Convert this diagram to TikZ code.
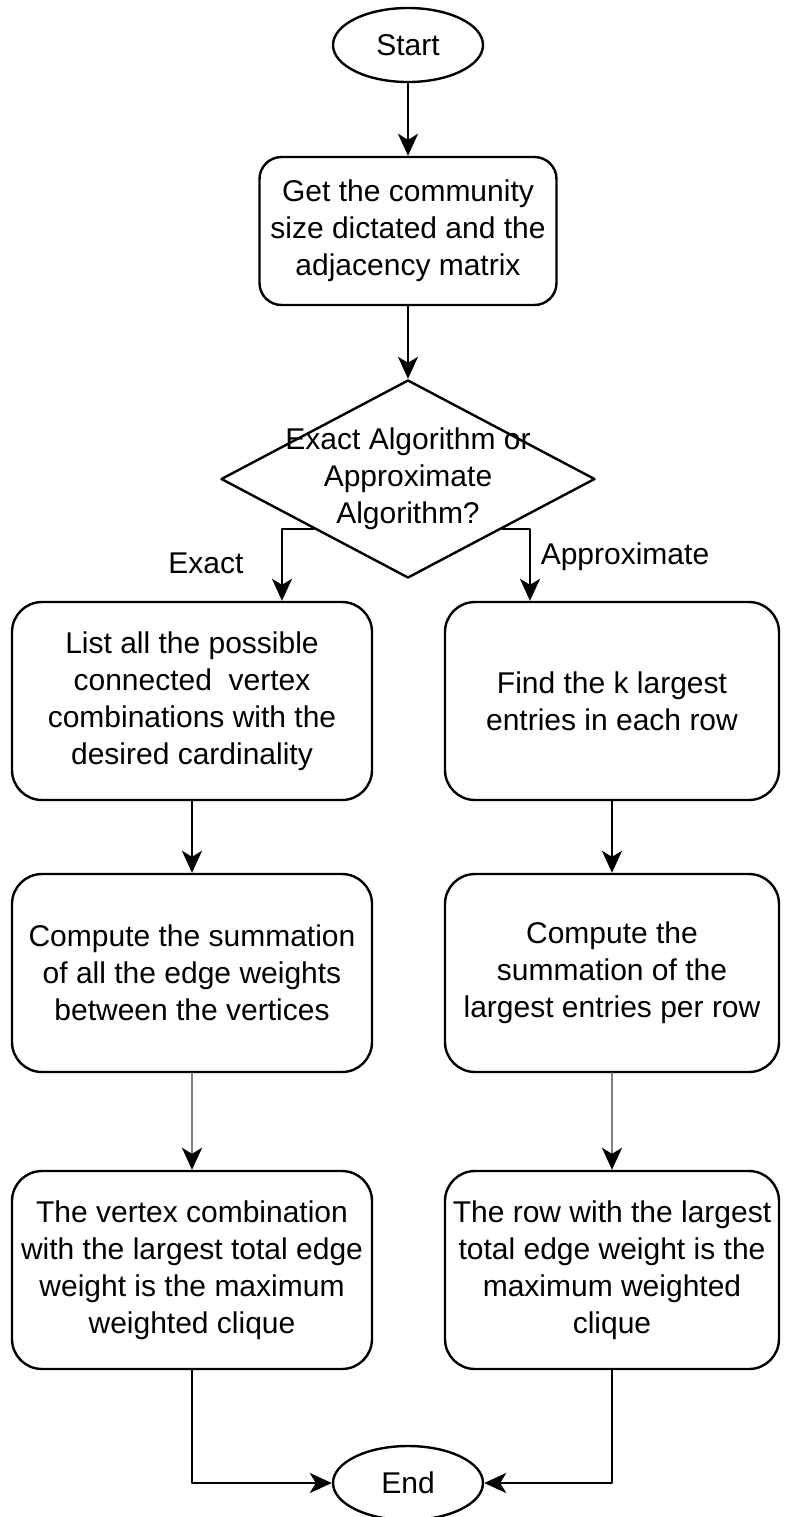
\documentclass[tikz,border=0pt]{standalone}
\usepackage{fontspec}
\setmainfont{Liberation Sans}
\usetikzlibrary{shapes.geometric,arrows.meta}
\begin{document}
\begin{tikzpicture}[x=0.5pt, y=-0.5pt, line cap=round, line join=round, font=\fontsize{15}{18.5}\selectfont,
	terminal/.style={ellipse, draw, line width=1.2pt, minimum width=75pt, minimum height=37pt, inner sep=0pt},
	process/.style={draw, rounded corners=15pt, line width=1.2pt, align=center, inner sep=0pt, minimum height=99pt},
	decision/.style={diamond, draw, line width=1.2pt, minimum width=187pt, minimum height=99pt, inner sep=0pt},
	flow/.style={line width=1.2pt, -{Stealth[length=11pt, width=10pt, inset=3pt]}},
	flowgray/.style={line width=1.2pt, draw=gray, -{Stealth[length=11pt, width=10pt, inset=3pt, black]}}]
	\useasboundingbox (0,0) rectangle (784,1517);
	
	% 1. Bắt đầu và dữ liệu vào
	\node[terminal] (start) at (408,45) {Start};
	\node[process, rounded corners=11pt, minimum width=148.5pt, minimum height=74pt] (getdata) at (408,231)
		{Get the community\\size dictated and the\\adjacency matrix};
	
	% 2. Lựa chọn thuật toán
	\node[decision] (ask) at (408,479) {};
	\node[align=center] (asktext) at (ask.center) {Exact Algorithm or\\Approximate\\Algorithm?};
	
	% 3. Nhánh chính xác (trái)
	\node[process, minimum width=180pt] (list) at (192,701)
		{List all the possible\\connected\ \ vertex\\combinations with the\\desired cardinality};
	\node[process, minimum width=180pt] (sumall) at (192,973)
		{Compute the summation\\of all the edge weights\\between the vertices};
	\node[process, minimum width=180pt] (bestcomb) at (192,1270)
		{The vertex combination\\with the largest total edge\\weight is the maximum\\weighted clique};
	
	% 4. Nhánh xấp xỉ (phải)
	\node[process, minimum width=167pt] (find) at (612,701)
		{Find the k largest\\entries in each row};
	\node[process, minimum width=167pt] (sumrow) at (612,973)
		{Compute the\\summation of the\\largest entries per row};
	\node[process, minimum width=167pt] (bestrow) at (612,1270)
		{The row with the largest\\total edge weight is the\\maximum weighted\\clique};
	
	% 5. Kết thúc
	\node[terminal] (end) at (408,1483) {End};
	
	% 6. Nhãn nhánh
	\node (exactlbl) at (206,563) {Exact};
	\node (approxlbl) at (625,557) {Approximate};
	
	% 7. Các mũi tên
	\draw[flow] (start) -- (getdata);
	\draw[flow] (getdata) -- (ask);
	\draw[flow] (ask.south west) -| ([xshift=45pt]list.north);
	\draw[flow] (ask.south east) -| ([xshift=-41pt]find.north);
	\draw[flow] (list) -- (sumall);
	\draw[flowgray] (sumall) -- (bestcomb);
	\draw[flow] (find) -- (sumrow);
	\draw[flowgray] (sumrow) -- (bestrow);
	\draw[flow] (bestcomb.south) |- (end.west);
	\draw[flow] (bestrow.south) |- (end.east);
\end{tikzpicture}
\end{document}
